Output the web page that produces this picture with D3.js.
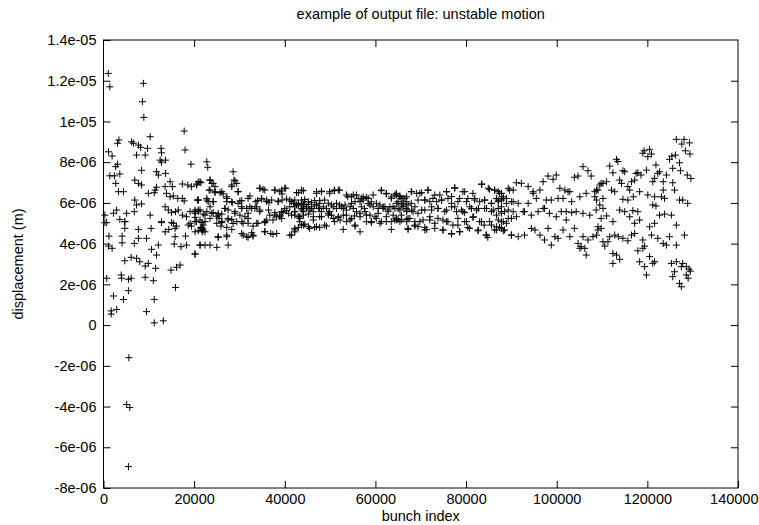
<!DOCTYPE html>
<html>
<head>
<meta charset="utf-8">
<script src="https://cdn.jsdelivr.net/npm/d3@7"></script>
<style>
  body { margin: 0; background: #fff; }
  text { font-family: "Liberation Sans", Arial, sans-serif; fill: #000; }
</style>
</head>
<body>
<svg id="chart" width="759" height="525"></svg>
<script>
// axis ticks
const xTicks = [0, 20000, 40000, 60000, 80000, 100000, 120000, 140000];
const yTicks = [1.4e-5, 1.2e-5, 1e-5, 8e-6, 6e-6, 4e-6, 2e-6, 0, -2e-6, -4e-6, -6e-6, -8e-6];
const yTickLabels = ["1.4e-05", "1.2e-05", "1e-05", "8e-06", "6e-06", "4e-06", "2e-06", "0", "-2e-06", "-4e-06", "-6e-06", "-8e-06"];

// bunch index (thousands), displacement (1e-6 m)
const earlyBunches = [
  [1.06,12.36],[1.4,11.7],[8.8,11.87],[8.6,10.97],[8.9,10.2],[17.8,9.53],[10.3,9.25],[3.4,9.09],[3.1,8.93],
  [6.2,9.0],[6.6,8.93],[7.7,8.84],[8.2,8.73],[9.7,8.68],[12.7,8.68],[12.8,8.46],[18.0,8.6],[1.1,8.51],[1.9,8.3],
  [7.3,8.35],[9.2,8.35],[12.5,8.1],[13.7,8.1],[12.8,8.0],[19.3,7.9],[3.1,7.9],[2.7,7.78],[8.4,7.6],[11.7,7.53],
  [12.1,7.37],[13.7,7.45],[1.4,7.33],[2.4,7.33],[3.6,7.42],[6.9,7.12],[7.7,6.96],[8.4,6.88],[2.7,6.96],[13.6,6.8],
  [14.7,7.04],[15.2,6.8],[17.4,6.93],[18.6,6.88],[19.4,6.8],[20.5,6.88],[21.5,6.99],[11.7,6.77],[11.4,6.63],
  [3.3,6.55],[4.4,6.55],[9.9,6.47],[11.2,6.5],[13.9,6.47],[14.7,6.3],[15.4,6.34],[16.4,6.22],[17.4,6.22],[17.8,6.1],
  [20.8,6.14],[6.9,6.14],[7.3,5.9],[8.4,5.95],[13.6,5.81],[14.3,5.65],[15.0,5.52],[15.9,5.57],[16.5,5.65],[17.4,5.4],
  [18.3,5.32],[19.1,5.57],[20.2,5.49],[20.9,5.65],[0.3,5.4],[2.2,5.49],[2.9,5.65],[5.1,5.49],[6.8,5.57],[10.3,5.4],
  [0.3,5.03],[3.6,5.19],[4.7,5.08],[12.8,5.08],[15.0,5.03],[19.1,5.0],[20.2,5.08],[21.7,5.03],[0.7,5.03],[4.7,5.08],
  [12.8,5.03],[15.4,5.0],[16.1,4.86],[18.7,4.91],[19.4,4.86],[21.5,4.8],[4.7,4.75],[7.7,4.7],[10.5,4.75],[13.6,4.58],
  [14.4,4.7],[15.8,4.75],[20.2,4.58],[21.8,4.58],[1.2,4.37],[4.1,4.37],[1.1,3.88],[7.7,4.26],[6.8,4.01],[9.5,4.26],
  [15.8,4.34],[15.6,3.98],[18.1,4.37],[17.1,3.85],[18.3,3.93],[21.3,3.93],[20.2,3.49],[1.9,3.77],[4.1,4.04],
  [10.6,3.72],[12.1,3.93],[11.7,3.44],[6.1,3.33],[7.3,3.28],[4.7,3.16],[8.0,3.11],[9.2,2.9],[9.9,3.03],[11.5,2.79],
  [14.9,2.7],[16.1,2.84],[16.9,2.95],[0.7,2.3],[3.9,2.46],[4.0,2.3],[5.5,2.25],[6.1,2.3],[9.2,2.35],[11.0,2.18],
  [5.5,1.69],[2.2,1.43],[4.4,1.26],[11.2,1.26],[15.9,1.85],[1.7,0.70],[2.9,0.77],[1.7,0.54],[9.5,0.66],[11.2,0.11],
  [13.2,0.21],[5.6,-1.6],[5.1,-3.9],[5.8,-4.05],[5.5,-6.95]
];

const midBunches = [
  [22.8,8.02],[23.0,7.75],[28.6,7.53],[28.8,7.12],[29.4,6.96],[28.3,6.88],[29.7,6.55],[21.3,7.04],[20.6,6.93],
  [23.5,7.12],[24.2,6.96],[24.6,6.8],[34.5,6.72],[35.2,6.67],[37.8,6.63],[38.9,6.55],[40.2,6.72],[39.4,6.44],
  [42.6,6.5],[43.7,6.6],[23.3,6.63],[24.6,6.5],[25.7,6.5],[26.4,6.44],[27.2,6.3],[20.8,6.14],[22.8,6.22],[23.1,6.06],
  [24.2,6.06],[27.2,6.06],[28.4,6.01],[29.7,5.98],[30.5,6.11],[32.3,6.34],[33.6,6.06],[34.0,6.11],[34.9,6.22],
  [36.0,6.14],[36.5,6.01],[38.5,6.06],[39.4,6.14],[41.1,6.14],[41.9,5.98],[43.0,5.9],[44.1,5.9],[23.5,5.81],
  [26.8,5.73],[27.5,5.65],[30.5,5.81],[31.6,5.73],[32.7,5.73],[33.8,5.81],[34.5,5.65],[20.2,5.65],[20.9,5.57],
  [22.0,5.45],[22.8,5.57],[24.2,5.52],[25.3,5.4],[26.1,5.45],[29.0,5.49],[30.1,5.4],[31.2,5.32],[31.9,5.49],
  [36.7,5.4],[37.8,5.52],[38.9,5.4],[39.6,5.52],[40.4,5.62],[41.5,5.4],[42.2,5.57],[43.3,5.32],[43.8,5.65],
  [20.2,5.29],[21.3,5.16],[22.4,5.08],[25.5,5.24],[26.1,5.03],[27.5,5.16],[28.3,5.19],[25.0,5.0],[25.9,4.86],
  [27.2,4.8],[28.3,4.7],[29.4,5.08],[30.8,5.0],[31.9,5.0],[33.0,4.86],[34.1,5.0],[35.6,5.03],[36.0,5.16],[38.2,5.32],
  [39.3,5.24],[21.7,4.75],[22.0,4.67],[22.4,4.58],[20.9,4.63],[21.7,4.8],[30.8,4.42],[31.9,4.31],[33.0,4.37],
  [32.7,4.53],[35.6,4.58],[36.9,4.5],[38.2,4.5],[41.5,4.42],[42.2,4.58],[43.0,4.8],[43.7,4.91],[43.3,5.08],
  [21.3,3.93],[22.4,3.93],[23.5,3.93],[25.0,3.82],[27.5,3.93],[25.3,4.31],[27.2,4.34],[20.2,3.49],
  [20.9,7.04],[23.5,7.12],[23.9,6.96],[29.0,7.08],[28.3,6.8],[23.5,6.63],[24.6,6.55],[26.1,6.55],[29.7,6.55],
  [34.5,6.72],[35.6,6.63],[37.8,6.63],[39.3,6.63],[40.0,6.72],[43.7,6.63],[20.9,6.14],[22.8,6.14],[24.2,6.06],
  [27.2,6.22],[28.3,6.06],[30.1,6.09],[31.9,6.22],[34.9,6.19],[36.0,6.06],[37.1,6.14],[38.6,6.09],[40.4,6.19],
  [41.5,6.06],[42.6,5.9],[43.7,5.98],[20.2,5.57],[21.3,5.65],[22.4,5.4],[23.9,5.49],[25.3,5.49],[26.8,5.73],
  [29.0,5.57],[30.5,5.73],[32.3,5.81],[33.4,5.73],[34.5,5.57],[36.4,5.65],[37.8,5.4],[39.3,5.57],[40.0,5.73],
  [41.1,5.81],[42.2,5.57],[43.7,5.73],[20.5,5.08],[22.0,4.91],[23.5,5.24],[25.0,5.32],[26.1,5.08],[27.5,5.24],
  [28.6,4.99],[30.5,5.08],[31.9,5.24],[33.8,5.0],[35.6,5.08],[37.4,5.16],[38.9,5.32],[40.8,5.49],[42.2,5.4],
  [44.1,5.4],[21.7,4.67],[25.3,4.34],[27.2,4.42],[30.5,4.5],[31.6,4.34],[33.0,4.42],[35.6,4.59],[37.4,4.46],
  [41.1,4.42],[42.2,4.75]
];

const centreBunches = [
  [43.0,6.5],[44.1,6.6],[47.0,6.47],[48.1,6.55],[49.9,6.47],[50.9,6.6],[51.8,6.63],[53.6,6.39],[54.7,6.3],
  [55.8,6.39],[56.9,6.22],[58.0,6.27],[61.3,6.6],[62.4,6.44],[63.5,6.22],[64.3,6.39],[65.4,6.34],[66.1,6.22],
  [42.2,6.14],[43.0,5.98],[44.4,6.17],[45.2,6.06],[45.9,6.01],[46.6,6.11],[47.7,6.11],[48.8,6.14],[49.6,5.98],
  [42.2,5.81],[43.7,5.73],[44.8,5.81],[45.9,5.73],[47.0,5.9],[47.7,5.73],[50.3,5.9],[51.4,5.98],[52.5,5.81],
  [53.3,5.9],[54.7,5.98],[55.5,6.06],[56.6,6.06],[57.3,6.14],[58.4,5.98],[59.1,6.06],[60.2,5.98],[61.0,5.9],
  [62.1,5.81],[63.2,5.81],[64.7,5.98],[65.8,5.9],[43.0,5.32],[44.1,5.57],[45.2,5.45],[46.3,5.32],[47.7,5.32],
  [48.1,5.57],[49.6,5.49],[50.3,5.4],[51.8,5.29],[52.2,5.16],[53.6,5.4],[54.4,5.16],[55.4,5.36],[56.6,5.49],
  [57.7,5.57],[58.8,5.4],[59.9,5.32],[60.6,5.49],[61.7,5.73],[62.8,5.57],[63.9,5.4],[65.0,5.19],[65.8,5.16],
  [43.3,5.24],[44.4,4.96],[45.5,4.75],[46.6,4.8],[47.7,4.8],[49.2,4.86],[51.0,5.08],[52.9,4.7],[55.5,4.86],
  [56.6,4.58],[58.0,5.08],[59.1,5.03],[61.0,5.0],[62.4,5.08],[63.5,4.7],[64.7,5.16],[42.2,4.67],
  [43.7,6.14],[44.4,6.06],[45.2,5.93],[44.1,5.81],[44.8,5.73],[45.9,5.81],[46.6,5.9],[47.4,5.73],[46.3,5.57],
  [45.5,5.65],[47.7,5.98],[48.5,5.81],[49.2,5.73],[49.9,5.57],[50.7,5.81],[51.4,5.73],[52.1,5.9],[52.9,5.73],
  [53.6,5.65],[54.4,5.81],[55.1,5.73],[55.8,5.57],[56.9,5.81],[57.6,5.73],[58.8,5.9],[59.5,5.81],[60.6,5.73],
  [61.7,5.81],[62.8,5.65],[63.9,5.81],[65.0,5.73],[66.1,5.81],[66.9,5.65],[44.1,4.91],[45.2,4.83],[46.3,5.16],
  [47.0,4.83],[48.1,5.32],[48.8,4.91],[49.6,5.4],[50.7,5.24],[51.8,5.32],[52.9,5.4],[53.6,5.08],[54.7,5.24],
  [55.5,4.91],[56.6,5.32],[58.0,5.4],[59.1,5.08],[60.2,5.24],[61.3,5.08],[62.4,5.32],[63.5,5.08],[64.6,5.24],
  [65.7,5.4],[66.9,5.08],[47.0,6.55],[48.1,6.58],[49.9,6.55],[51.0,6.63],[52.1,6.63],[53.9,6.3],[55.1,6.39],
  [56.2,6.22],[57.3,6.3],[58.4,6.22],[59.5,6.39],[61.3,6.63],[62.4,6.47],[63.5,6.3],[64.6,6.39],[65.7,6.22],[66.9,6.3]
];

const lateBunches = [
  [64.6,6.47],[65.4,6.3],[66.5,6.22],[68.0,6.55],[69.1,6.47],[70.2,6.5],[71.6,6.63],[73.1,6.39],[74.2,6.39],
  [75.7,6.55],[77.5,6.72],[79.7,6.55],[81.5,6.47],[83.5,6.93],[85.2,6.67],[86.3,6.63],[87.4,6.47],[88.2,6.22],
  [65.0,6.06],[66.1,5.98],[67.2,5.9],[68.7,5.81],[70.9,6.14],[72.0,6.06],[73.5,6.06],[74.6,6.14],[76.0,6.22],
  [76.8,5.98],[78.2,6.06],[80.1,6.06],[81.9,6.22],[83.0,6.06],[84.1,6.14],[85.6,5.98],[87.1,6.06],[87.8,5.81],
  [64.3,5.73],[65.4,5.65],[66.9,5.57],[68.0,5.65],[69.4,5.49],[70.9,5.65],[72.4,5.65],[73.8,5.73],[75.3,5.57],
  [76.8,5.81],[77.9,5.57],[79.0,5.65],[79.7,5.52],[80.8,5.81],[82.3,5.65],[84.1,5.73],[85.6,5.57],[86.7,5.4],
  [87.8,5.57],[64.3,5.16],[65.4,5.08],[66.9,5.19],[67.6,5.24],[68.7,4.91],[69.8,5.08],[70.9,4.8],[72.0,5.16],
  [73.1,5.0],[74.9,5.16],[76.0,5.08],[77.1,4.91],[78.2,4.91],[79.7,5.08],[81.5,5.29],[83.0,5.08],[84.0,4.91],
  [85.2,5.08],[87.1,5.16],[88.2,5.08],[67.2,4.7],[68.7,4.86],[71.3,4.7],[74.9,4.67],[76.8,4.47],[78.6,4.58],
  [80.4,4.8],[82.6,4.63],[84.4,4.42],[84.8,4.31],[86.3,4.67],[87.4,4.8],[88.2,4.63],
  [67.9,6.55],[69.8,6.47],[71.6,6.63],[75.7,6.55],[77.5,6.75],[79.3,6.55],[83.4,6.91],[84.9,6.72],[86.3,6.63],
  [87.8,6.47],[89.6,6.63],[66.8,6.06],[67.9,5.98],[69.4,6.14],[70.9,6.14],[72.7,6.22],[74.6,6.14],[76.8,6.31],
  [78.6,6.22],[80.4,6.22],[81.9,6.14],[84.1,6.14],[85.6,5.98],[87.1,6.14],[88.9,6.22],[90.4,6.06],[66.8,5.73],
  [68.3,5.57],[70.2,5.65],[72.4,5.81],[73.8,5.73],[75.7,5.65],[77.5,5.81],[79.3,5.57],[81.2,5.73],[82.7,5.73],
  [84.5,5.73],[86.0,5.65],[87.8,5.49],[89.3,5.65],[67.2,5.24],[68.7,5.08],[70.5,5.16],[72.0,5.32],[73.8,5.24],
  [75.7,5.08],[78.2,5.24],[80.1,5.08],[81.6,5.32],[83.4,5.08],[85.6,4.91],[87.8,5.08],[90.0,5.24],[67.2,4.75],
  [69.4,4.83],[70.9,4.67],[73.1,4.75],[74.9,4.67],[76.8,4.5],[78.6,4.59],[80.8,4.75],[82.7,4.67],[84.5,4.42],
  [86.7,4.67],[88.5,4.67],[90.0,4.42],
  [87.1,6.55],[88.2,6.3],[89.3,6.72],[90.4,6.63],[91.1,6.99],[92.2,6.96],[93.7,6.8],[94.8,6.55],[96.3,6.63],
  [97.0,7.04],[98.1,7.32],[99.2,7.16],[99.9,7.37],[100.7,6.72],[101.8,6.63],[102.9,6.55],[103.9,7.26],[104.7,7.32],
  [105.8,7.78],[106.9,7.58],[107.6,7.32],[108.4,6.55],[109.1,6.63],[109.8,6.96],[86.7,6.22],[87.8,6.14],[88.9,5.98],
  [90.0,6.06],[91.5,5.98],[92.6,5.57],[93.7,5.98],[94.8,6.47],[95.5,6.22],[97.0,5.73],[97.7,6.14],[98.8,6.14],
  [100.3,6.22],[101.4,6.22],[102.5,6.55],[103.3,6.06],[105.1,6.3],[106.5,6.47],[108.4,6.3],[109.5,5.9],[110.2,6.22],
  [87.1,5.73],[88.5,5.57],[89.3,5.24],[90.4,5.57],[91.1,5.32],[92.9,5.57],[94.4,5.4],[95.9,5.57],[97.3,5.73],
  [98.4,5.49],[99.9,5.32],[101.0,5.57],[102.1,5.57],[103.3,5.52],[104.3,5.57],[105.8,5.49],[107.3,5.4],[108.7,5.65],
  [109.8,5.24],[86.7,4.83],[87.8,4.75],[88.9,5.0],[90.0,4.42],[91.5,4.34],[92.9,4.42],[94.4,4.75],[95.2,4.67],
  [96.3,4.42],[97.3,4.18],[98.8,3.93],[98.1,4.75],[99.6,4.34],[100.3,4.26],[101.4,4.67],[102.1,5.16],[102.9,4.34],
  [103.9,4.75],[104.7,4.01],[105.4,3.85],[106.2,3.77],[105.8,4.34],[106.9,4.18],[108.0,4.34],[109.1,4.67],[110.2,4.09],
  [106.5,3.44],[105.1,3.77]
];

const endBunches = [
  [126.4,9.12],[128.1,9.12],[127.6,8.89],[128.4,8.56],[119.3,8.56],[120.5,8.63],[120.9,8.4],[120.1,8.27],[119.0,8.44],
  [124.9,8.14],[125.4,8.3],[126.2,8.35],[127.1,7.97],[125.6,7.7],[127.3,7.58],[128.8,7.37],[113.2,8.14],[113.5,8.03],
  [111.7,7.81],[112.4,7.48],[115.0,7.53],[114.6,7.58],[117.5,7.45],[117.9,7.48],[118.6,7.37],[119.8,7.61],[121.9,7.86],
  [122.3,7.45],[122.7,7.53],[121.6,7.21],[121.2,7.04],[124.2,7.37],[123.5,7.04],[125.6,6.99],[126.0,6.63],
  [108.8,6.63],[109.5,6.88],[110.2,6.96],[111.0,7.04],[112.1,6.63],[112.8,6.55],[113.9,7.12],[114.3,6.96],[115.7,6.8],
  [116.5,7.04],[117.2,7.12],[116.1,6.63],[116.9,6.3],[114.6,6.18],[115.7,6.14],[118.3,6.55],[120.1,6.39],[121.6,6.3],
  [123.5,6.63],[123.8,6.22],[123.1,6.3],[127.1,6.14],[127.8,6.14],[128.9,5.98],[108.8,6.14],[110.2,5.73],[111.0,5.36],
  [112.4,5.08],[113.9,5.65],[115.0,5.57],[116.8,5.62],[117.9,5.57],[116.1,5.32],[117.2,5.0],[118.3,5.16],[121.6,5.0],
  [120.5,4.83],[121.2,5.9],[121.9,5.85],[122.7,5.4],[123.8,5.45],[125.3,5.4],[126.4,4.91],[128.2,4.42],[109.1,4.83],
  [109.8,4.75],[108.8,4.42],[111.7,4.34],[112.8,4.42],[111.3,4.09],[110.6,3.88],[113.6,4.34],[114.6,4.26],[115.7,4.14],
  [116.5,4.42],[117.2,4.5],[119.0,4.18],[119.4,3.88],[120.9,4.42],[122.3,4.26],[123.5,4.01],[124.2,3.93],[124.9,4.34],
  [126.4,3.93],[112.4,3.52],[113.2,3.44],[113.9,3.23],[112.4,3.03],[117.9,3.65],[119.0,3.77],[118.3,3.11],[119.4,2.87],
  [120.5,3.36],[121.2,3.03],[121.6,3.11],[119.8,2.46],[125.3,3.03],[126.4,3.11],[127.8,3.03],[128.6,2.87],[126.0,2.62],
  [125.6,2.38],[127.5,2.87],[128.6,2.46],[127.1,2.05],[127.5,1.88],[129.3,8.95],[129.4,8.4],[129.6,7.2],
  [129.2,2.75],[129.0,2.3],[129.5,2.65]
];

const svg = d3.select('#chart');
const margin = { left: 103.5, right: 738, top: 40, bottom: 488 };

const x = d3.scaleLinear().domain([0, 140000]).range([margin.left, margin.right]);
const y = d3.scaleLinear().domain([-8e-6, 1.4e-5]).range([margin.bottom, margin.top]);

const tickLen = 7;
const fontSize = 14.5;

// frame
svg.append('rect')
  .attr('x', margin.left).attr('y', margin.top)
  .attr('width', margin.right - margin.left)
  .attr('height', margin.bottom - margin.top)
  .attr('fill', 'none').attr('stroke', '#000').attr('stroke-width', 1);

// bottom axis + mirrored top ticks
const xAxis = d3.axisBottom(x).tickValues(xTicks).tickSize(-tickLen).tickPadding(6).tickFormat(d3.format('d'));
const gx = svg.append('g').attr('transform', `translate(0,${margin.bottom})`).call(xAxis);
gx.select('.domain').remove();
gx.selectAll('text').attr('font-size', fontSize).attr('font-family', '"Liberation Sans", Arial, sans-serif');
// last label sits against the page edge, keep it inside
gx.selectAll('.tick').filter(d => d === 140000).select('text')
  .attr('text-anchor', 'end').attr('x', 20);

const gxTop = svg.append('g').attr('transform', `translate(0,${margin.top})`)
  .call(d3.axisTop(x).tickValues(xTicks.slice(1, -1)).tickSize(-tickLen).tickFormat(''));
gxTop.select('.domain').remove();

// left axis + mirrored right ticks
const yAxis = d3.axisLeft(y).tickValues(yTicks).tickSize(-tickLen).tickPadding(7)
  .tickFormat((d, i) => yTickLabels[i]);
const gy = svg.append('g').attr('transform', `translate(${margin.left},0)`).call(yAxis);
gy.select('.domain').remove();
gy.selectAll('text').attr('font-size', fontSize).attr('font-family', '"Liberation Sans", Arial, sans-serif');

const gyRight = svg.append('g').attr('transform', `translate(${margin.right},0)`)
  .call(d3.axisRight(y).tickValues(yTicks.slice(1, -1)).tickSize(-tickLen).tickFormat(''));
gyRight.select('.domain').remove();

svg.selectAll('.tick line').attr('stroke', '#000');

// the "+" markers
const allPoints = [].concat(earlyBunches, midBunches, centreBunches, lateBunches, endBunches)
  .map(d => ({ idx: d[0] * 1000, disp: d[1] * 1e-6 }));

const arm = 3.5;
svg.append('g')
  .selectAll('path')
  .data(allPoints)
  .join('path')
  .attr('d', d => {
    const cx = x(d.idx), cy = y(d.disp);
    return `M${cx - arm},${cy}H${cx + arm}M${cx},${cy - arm}V${cy + arm}`;
  })
  .attr('stroke', '#000')
  .attr('stroke-width', 1)
  .attr('fill', 'none');

// labels
svg.append('text')
  .attr('x', (margin.left + margin.right) / 2).attr('y', 19)
  .attr('text-anchor', 'middle').attr('font-size', fontSize)
  .text('example of output file: unstable motion');

svg.append('text')
  .attr('x', (margin.left + margin.right) / 2).attr('y', 521)
  .attr('text-anchor', 'middle').attr('font-size', fontSize)
  .text('bunch index');

svg.append('text')
  .attr('transform', `translate(23,${(margin.top + margin.bottom) / 2}) rotate(-90)`)
  .attr('text-anchor', 'middle').attr('font-size', fontSize)
  .text('displacement (m)');
</script>
</body>
</html>
